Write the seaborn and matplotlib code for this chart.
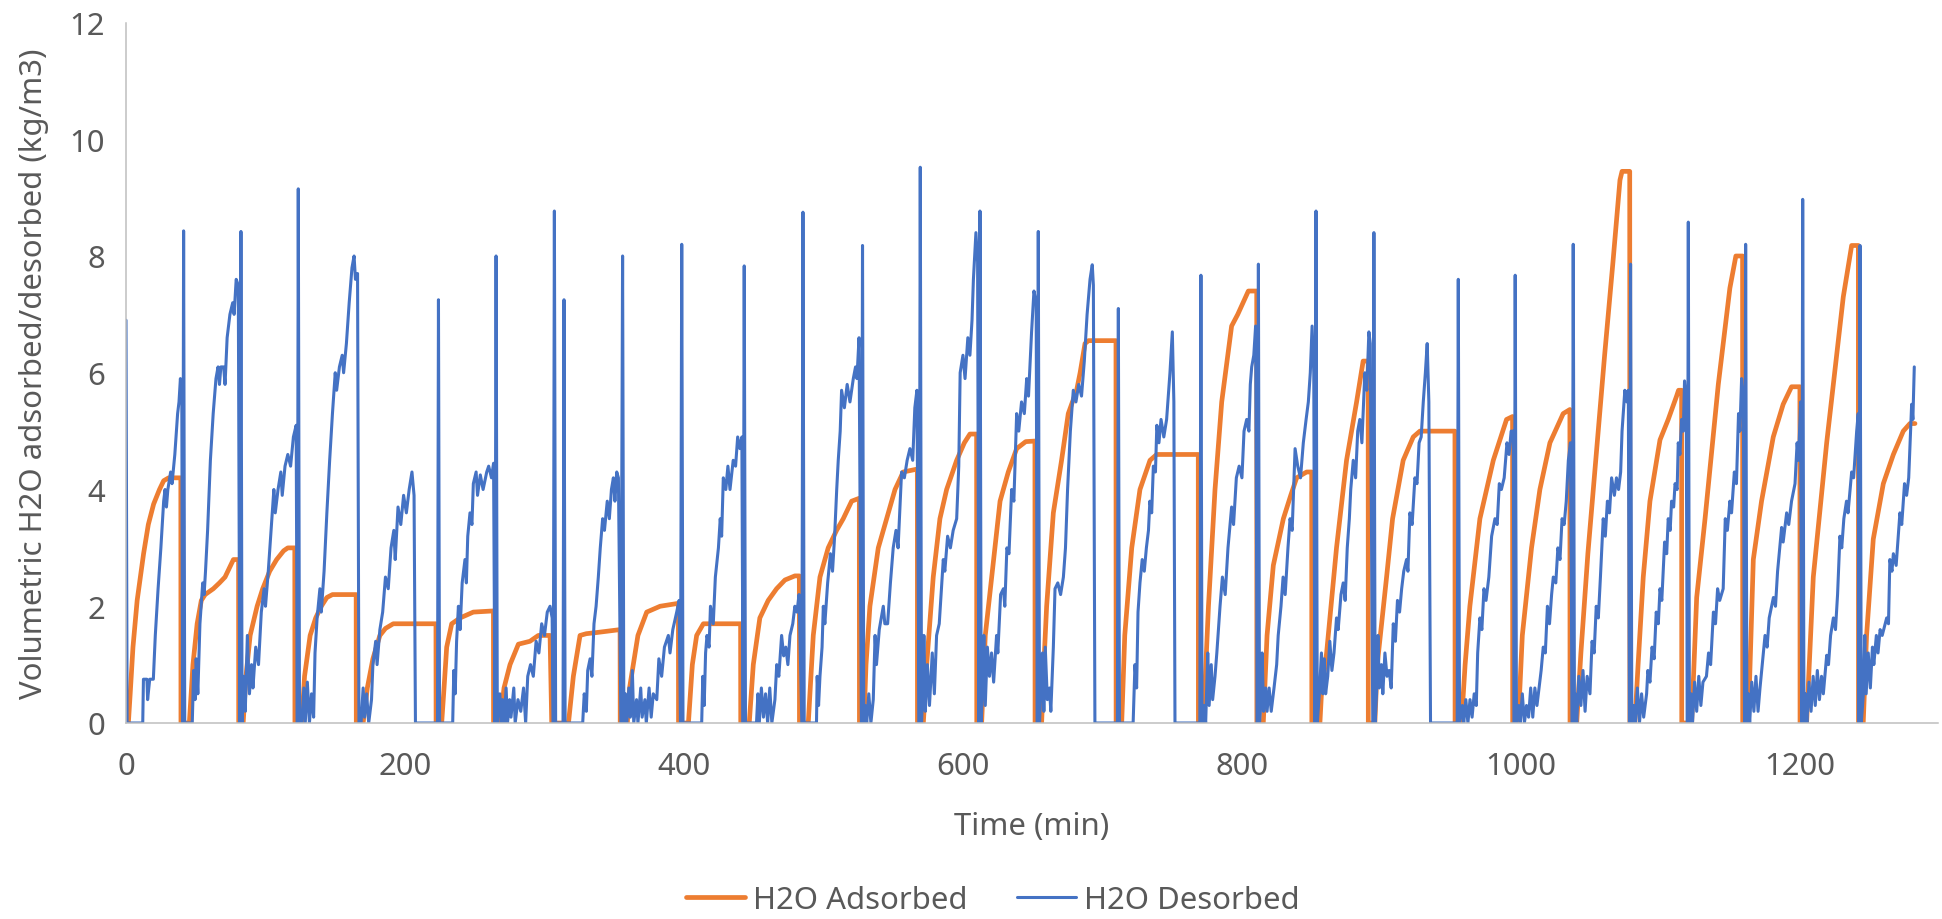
import matplotlib
matplotlib.use("Agg")
import matplotlib.pyplot as plt
import numpy as np
import pandas as pd
import seaborn as sns

# ---------------- data (time in min, kg/m3) ----------------
ADSORBED = [
    (0.5, 0), (1.7, 0), (3, 0.5), (5, 1.3), (8, 2.1), (12.6, 2.9), (16, 3.4), (19.8, 3.75), (24, 4.0), (27, 4.15), (30.6, 4.2), (39.3, 4.2), (39.4, 0),
    (45.4, 0), (48, 1.0), (51, 1.7), (54, 2.1), (56.7, 2.2), (62.6, 2.3), (67, 2.4), (71, 2.5), (74, 2.65), (77, 2.8), (80.7, 2.8), (80.8, 0),
    (84, 0), (86, 0.8), (89, 1.5), (94, 2.0), (98, 2.3), (103, 2.6), (108, 2.8), (113, 2.95), (116, 3.0), (121, 3.0), (121.1, 0),
    (126, 0), (128, 0.8), (132, 1.5), (136, 1.8), (140, 2.0), (144, 2.15), (148, 2.2), (165, 2.2), (165.1, 0),
    (170, 0), (173, 0.6), (177, 1.1), (182, 1.5), (186, 1.62), (191.6, 1.7), (222.2, 1.7), (222.3, 0),
    (226.3, 0), (228, 0.6), (229.9, 1.3), (233.5, 1.7), (239.5, 1.8), (249, 1.9), (263.4, 1.92), (263.5, 0),
    (268.1, 0), (271, 0.6), (275.3, 1.0), (281.3, 1.35), (289.6, 1.4), (295.6, 1.5), (304, 1.5), (305.2, 0),
    (317.2, 0), (320.7, 0.8), (325.5, 1.5), (330, 1.53), (337.5, 1.55), (354.2, 1.6), (354.3, 0),
    (359.4, 0), (361, 0.6), (363.7, 1.0), (367, 1.5), (373.3, 1.9), (382.9, 2.0), (396, 2.05), (396.1, 0),
    (403.2, 0), (406, 1.0), (409.1, 1.5), (413.9, 1.7), (440.6, 1.7), (440.7, 0),
    (446.8, 0), (449.7, 1.0), (454.4, 1.8), (460.4, 2.1), (466.4, 2.3), (472.4, 2.45), (479.5, 2.52), (482.7, 2.52), (482.8, 0),
    (489.1, 0), (492.7, 1.5), (497.5, 2.5), (503.4, 3.0), (509.4, 3.3), (514.2, 3.5), (520.2, 3.8), (525.7, 3.85), (525.8, 0),
    (529, 0), (530.5, 1.0), (533.3, 2.0), (539.3, 3.0), (545.3, 3.5), (551.3, 4.0), (557.2, 4.3), (567.3, 4.35), (567.4, 0),
    (571.6, 0), (574, 1.0), (578.7, 2.5), (583.5, 3.5), (588.3, 4.0), (595.5, 4.5), (601, 4.8), (605, 4.95), (609.8, 4.95), (609.9, 0),
    (613.4, 0), (616, 1.5), (620.6, 2.5), (626.6, 3.8), (632.5, 4.3), (638.5, 4.7), (645, 4.82), (651.6, 4.83), (651.7, 0),
    (656.4, 0), (658, 1.0), (660, 2.0), (664.8, 3.6), (670.7, 4.5), (675.5, 5.3), (681.5, 5.7), (684, 6.0), (687.5, 6.5), (690, 6.55), (709.7, 6.55), (709.8, 0),
    (713.8, 0), (716, 1.5), (721, 3.0), (726.9, 4.0), (734.1, 4.5), (738.9, 4.6), (768.7, 4.6), (768.8, 0),
    (772.3, 0), (776, 2.0), (780.7, 4.0), (785.5, 5.5), (792.6, 6.8), (797, 7.0), (804.6, 7.4), (810.6, 7.4), (810.7, 0),
    (815.3, 0), (818, 1.5), (822.5, 2.7), (829.7, 3.5), (835, 3.9), (839.2, 4.2), (846.4, 4.3), (850, 4.3), (850.1, 0),
    (855.9, 0), (857, 0.5), (860.7, 1.2), (867.8, 3.0), (875, 4.5), (882.2, 5.5), (886.9, 6.2), (890.5, 6.2), (890.6, 0),
    (895.3, 0), (897, 1.0), (903.7, 2.5), (908, 3.5), (915.6, 4.5), (922.8, 4.9), (927.6, 5.0), (952.7, 5.0), (952.8, 0),
    (957.4, 0), (960, 1.0), (963.4, 2.0), (970.6, 3.5), (980.2, 4.5), (989.7, 5.2), (994, 5.25), (994.1, 0),
    (998.1, 0), (1001, 1.5), (1007.6, 3.0), (1013.6, 4.0), (1020.8, 4.8), (1030.3, 5.3), (1035.1, 5.37), (1035.2, 0),
    (1040, 0), (1043, 1.2), (1048, 2.9), (1054, 4.6), (1060, 6.3), (1066, 7.9), (1071, 9.3), (1072.5, 9.45), (1078, 9.45), (1078.1, 0),
    (1081.7, 0), (1084, 1.0), (1087.7, 2.5), (1092.5, 3.8), (1099.7, 4.85), (1105.6, 5.2), (1111.6, 5.6), (1113, 5.7), (1115.2, 5.7), (1115.3, 0),
    (1122.4, 0), (1126, 2.15), (1132, 3.5), (1141.5, 5.8), (1149.8, 7.45), (1154.1, 8.0), (1158.9, 8.0), (1159, 0),
    (1163, 0), (1166.6, 2.8), (1172.5, 3.8), (1180.9, 4.9), (1188, 5.46), (1194, 5.76), (1200, 5.76), (1200.1, 0),
    (1204.8, 0), (1209.6, 2.5), (1219.2, 4.8), (1231.1, 7.3), (1237.1, 8.18), (1241.9, 8.18), (1242, 0),
    (1245.4, 0), (1247.8, 1.5), (1252.6, 3.15), (1259.8, 4.1), (1267, 4.6), (1274.1, 5.0), (1278.9, 5.13), (1282.5, 5.13),
]

DESORBED = [
    (0, 6.9), (0.8, 0), (12, 0), (12.5, 0.75), (15, 0.75), (15.5, 0.4), (17, 0.75), (19.6, 0.75), (21, 1.5), (23, 2.3), (25, 3.0), (27, 3.8), (28, 4.0), (29, 3.7), (30, 4.0), (32, 4.3), (33, 4.1), (35, 4.6), (37, 5.3), (38, 5.5), (39, 5.9), (40, 5.6), (40.6, 0), (41.3, 8.43), (42.1, 0),
    (47.5, 0), (48.5, 0.9), (49.5, 0.4), (50.3, 1.1), (51.5, 0.5), (53, 1.7), (55, 2.4), (56, 2.2), (57, 2.6), (58.5, 3.3), (60.5, 4.5), (62.5, 5.3), (64.5, 5.9), (66, 6.1), (67, 5.8), (68, 6.1), (70, 6.1), (71, 5.8), (72.5, 6.6), (74.5, 7.0), (76.5, 7.2), (77.5, 7.0), (79, 7.6), (80.5, 7.5), (81.6, 0), (82.4, 8.42), (83.2, 0),
    (84.5, 0.8), (85.5, 0.2), (87, 1.5), (88.5, 0.5), (90, 1.0), (91, 0.6), (93, 1.3), (95, 1.0), (97, 1.9), (99, 2.3), (100, 2.0), (102, 2.6), (104, 3.3), (106, 4.0), (107, 3.6), (109, 4.0), (111, 4.3), (112, 3.9), (114, 4.4), (116, 4.6), (118, 4.4), (120, 4.9), (122, 5.1), (122.8, 0), (123.5, 9.15), (124.4, 0),
    (126, 0), (127.5, 0.6), (128.5, 0), (130, 0.7), (131.5, 0), (133, 0.5), (134.5, 0.1), (135.5, 1.2), (137, 1.8), (139, 2.3), (140, 1.9), (142, 2.6), (144, 3.6), (146, 4.5), (148, 5.3), (150, 6.0), (151, 5.7), (153, 6.1), (155, 6.3), (156, 6.0), (158, 6.5), (160, 7.2), (162, 7.8), (163.5, 8.0), (164.5, 7.6), (166, 7.7), (167, 0),
    (168.5, 0), (170, 0.6), (171, 0.1), (172.5, 0.5), (174, 0), (176, 0.4), (177, 1.0), (179, 1.4), (180, 1.0), (182, 1.6), (184, 1.9), (186, 2.5), (188, 2.3), (190, 3.0), (192, 3.3), (193, 2.8), (195, 3.7), (197, 3.4), (199, 3.9), (201, 3.6), (203, 4.0), (205, 4.3), (206.5, 3.9), (207.5, 0),
    (223.3, 0), (224, 7.25), (224.8, 0),
    (234.2, 0), (235, 0.9), (236, 0.5), (237, 1.4), (238.3, 2.0), (239.5, 1.6), (241, 2.4), (243, 2.8), (244, 2.4), (245, 3.2), (246.6, 3.6), (248, 3.4), (249, 4.1), (251, 4.3), (252, 3.9), (254, 4.25), (256, 4.0), (258.6, 4.3), (260, 4.4), (262, 4.2), (263.5, 4.45), (264.5, 0), (265.3, 8.0), (266.2, 0),
    (268, 0.5), (269, 0), (270, 0.4), (271, 0), (272.5, 0.6), (273.5, 0), (275, 0.4), (276, 0.1), (278, 0.6), (279, 0), (281, 0.4), (283, 0.2), (285, 0.6), (286.5, 0), (288, 0.8), (290, 1.0), (292, 0.8), (294, 1.4), (296, 1.2), (298, 1.7), (300, 1.5), (302, 1.9), (304, 2.0), (305.5, 1.8), (306.3, 0), (307.1, 8.77), (308, 0),
    (313.3, 0), (314, 7.25), (314.8, 0),
    (327.4, 0), (328.5, 0.5), (330, 0.2), (331, 0.9), (332.7, 1.1), (334, 0.8), (335.5, 1.7), (337, 2.0), (338.6, 2.5), (340, 3.0), (341.7, 3.5), (343, 3.3), (345, 3.8), (346.5, 3.5), (348, 4.0), (349.4, 4.2), (350.5, 3.8), (351.8, 4.3), (353, 4.2), (354.8, 0), (356, 8.0), (356.9, 0),
    (358, 0.5), (359, 0), (360.5, 0.6), (361.5, 0.1), (363, 0.9), (364, 0), (366, 0.4), (367, 0), (369, 0.6), (370, 0.1), (372, 0.4), (373, 0), (375, 0.6), (376.5, 0.1), (378, 0.5), (380.5, 0.4), (382, 1.1), (384, 0.8), (386, 1.3), (388.8, 1.5), (390, 1.2), (392, 1.6), (394.8, 1.9), (396.5, 2.1), (397.5, 0), (398.4, 8.2), (399.3, 0),
    (412.7, 0), (413.5, 0.8), (414.5, 0.3), (415.5, 1.2), (416.5, 1.5), (418, 1.3), (419, 2.0), (421, 1.7), (422.5, 2.5), (424.7, 3.0), (426, 3.5), (427, 3.2), (428.2, 4.2), (430, 4.0), (431.5, 4.4), (433, 4.0), (435.3, 4.5), (437, 4.4), (438.5, 4.9), (440.1, 4.7), (441.5, 4.9), (442.4, 0), (443.2, 7.83), (444.1, 0),
    (452, 0), (453, 0.5), (454, 0), (455.5, 0.6), (457, 0.1), (458.5, 0.5), (460, 0), (461.5, 0.6), (463, 0), (465.2, 0.4), (466.5, 1.0), (468, 0.8), (470, 1.5), (471.5, 1.15), (473, 1.3), (474.5, 1.0), (476, 1.5), (478, 1.7), (479.5, 2.0), (481, 1.9), (482.5, 2.2), (484.5, 0), (485.3, 8.75), (486.2, 0),
    (495, 0), (495.5, 0.8), (496.5, 0.3), (497.5, 0.8), (499, 1.3), (499.9, 2.0), (501, 1.7), (503, 2.4), (505, 2.9), (506.5, 2.6), (508, 3.2), (509.5, 4.0), (510.6, 4.5), (512, 5.0), (513, 5.7), (515, 5.4), (517, 5.8), (519, 5.5), (521.4, 5.9), (523, 6.1), (524, 5.9), (525.5, 6.6), (527.2, 0), (528, 8.18), (528.9, 0),
    (530, 0.3), (531, 0), (532.5, 0.5), (534, 0), (535.7, 0.4), (537, 1.5), (538, 1.0), (540, 1.6), (542.9, 2.0), (544, 1.7), (546, 1.7), (548, 2.4), (550, 3.0), (552, 3.3), (553.5, 3.0), (556, 4.3), (558, 4.2), (560, 4.5), (562, 4.7), (564, 4.5), (565.5, 5.4), (567, 5.7), (568.6, 0), (569.4, 9.52), (570.3, 0),
    (571, 0.4), (572, 1.5), (573, 0.2), (574.5, 1.0), (576, 0.3), (578, 1.2), (579.5, 0.5), (581.1, 1.5), (583, 1.7), (585.9, 2.8), (587, 2.6), (589, 3.2), (591, 3.0), (593, 3.3), (595.5, 3.5), (597, 4.4), (598, 6.0), (600, 6.3), (601.5, 5.9), (603.5, 6.6), (605, 6.3), (606.5, 6.9), (607.5, 7.6), (609.3, 8.4), (610.5, 7.9), (611.4, 0), (612.2, 8.77), (613.1, 0),
    (614, 0.6), (615, 1.5), (616, 0.3), (617.5, 1.3), (619, 0.8), (620.5, 1.2), (622, 0.7), (624.1, 1.5), (625, 1.2), (627, 2.2), (629, 2.3), (630, 2.0), (631.5, 3.0), (633, 2.9), (634.9, 4.0), (636.5, 3.8), (638.5, 5.3), (640, 5.0), (642, 5.5), (644, 5.3), (645.7, 5.9), (647, 5.6), (649.2, 6.7), (650.9, 7.4), (652.5, 7.2), (653.3, 0), (654, 8.42), (654.9, 0),
    (657, 1.2), (658, 0.2), (659, 1.3), (660.5, 0.4), (662, 0.6), (663, 0.2), (664.8, 1.3), (666, 2.3), (668, 2.4), (670, 2.2), (672, 2.5), (673.5, 3.0), (675, 4.0), (677, 5.0), (679.1, 5.7), (681, 5.5), (683, 5.8), (685, 5.6), (687, 6.2), (689, 7.0), (691.1, 7.6), (692.7, 7.85), (693.5, 7.5), (694.6, 0),
    (710.7, 0), (711.4, 7.1), (712.2, 0),
    (722, 0), (723.3, 1.0), (724.5, 0.6), (725.5, 1.9), (726.9, 2.4), (728.5, 2.8), (730, 2.6), (731.5, 3.0), (733, 3.3), (734, 3.8), (735.3, 3.6), (736.5, 4.4), (738, 4.3), (739, 5.1), (740.5, 4.8), (742, 5.2), (744, 4.9), (746, 5.2), (748.4, 6.0), (750.1, 6.7), (751.2, 5.5), (752, 0),
    (769.8, 0), (770.6, 7.67), (771.4, 0),
    (773, 0.3), (774, 0), (775.5, 1.2), (776.5, 0.3), (778, 1.0), (779, 0.4), (780.7, 0.8), (782, 1.2), (784.3, 2.0), (786, 2.5), (788, 2.2), (790, 3.0), (792.6, 3.7), (794, 3.4), (796, 4.2), (798, 4.4), (800, 4.2), (801.5, 5.0), (803.4, 5.2), (805, 5.0), (806, 5.8), (807, 6.1), (808.5, 6.3), (809.8, 6.8), (811, 0), (811.8, 7.86), (812.6, 0),
    (813.5, 0.3), (814.5, 1.2), (815.5, 0.2), (817, 0.6), (818, 0.2), (819.5, 0.6), (821, 0.2), (823, 0.6), (824.9, 1.0), (826, 1.5), (828, 2.0), (829.5, 2.5), (831, 2.2), (833, 3.0), (834.5, 3.5), (836, 3.3), (838.1, 4.7), (840, 4.4), (842, 4.2), (844, 4.8), (846, 5.2), (847.6, 5.5), (849, 6.0), (850.3, 6.8), (851.5, 6.0), (852.3, 0), (853.1, 8.77), (854, 0),
    (855.5, 0.5), (857, 1.2), (858, 0.5), (859, 1.1), (860, 0.5), (861.5, 0.8), (863, 1.4), (864.5, 0.9), (866, 1.2), (867.8, 1.8), (869, 1.6), (871, 2.2), (872.6, 2.4), (874, 2.1), (875.5, 3.0), (877, 3.5), (878, 4.0), (879.8, 4.5), (881.5, 4.2), (883, 5.0), (884.5, 5.2), (886, 4.8), (888.1, 6.0), (889.5, 5.7), (891, 6.7), (892, 6.5), (893.8, 0), (894.6, 8.4), (895.5, 0),
    (896.5, 0.5), (897.5, 1.5), (898.5, 0.6), (900, 1.0), (901, 0.5), (902.5, 1.2), (904, 0.8), (905.5, 0.9), (907, 0.6), (908.5, 1.7), (910, 1.4), (911.5, 2.1), (913, 1.9), (914.5, 2.3), (916, 2.6), (918, 2.8), (919, 2.6), (920.4, 3.6), (922, 3.4), (924, 4.2), (925.5, 4.1), (927, 4.8), (928.5, 4.9), (930, 5.5), (931.5, 6.0), (932.8, 6.5), (934, 5.5), (935.2, 0),
    (954.3, 0), (955.1, 7.6), (956, 0),
    (958, 0.3), (959, 0), (960.5, 0.4), (962, 0), (963.5, 0.4), (965, 0.1), (966.5, 0.5), (968, 0.3), (969, 1.2), (970.6, 1.8), (972, 1.6), (973.5, 2.3), (975, 2.1), (977, 2.5), (979, 3.2), (981.4, 3.5), (983, 3.4), (984.5, 4.1), (986, 4.0), (988, 4.2), (990, 4.8), (991.5, 4.6), (993, 5.0), (994.5, 5.0), (995.2, 0), (995.9, 7.67), (996.8, 0),
    (998.5, 0.3), (999.5, 0), (1001, 0.5), (1002.5, 0), (1004, 0.3), (1005.5, 0.1), (1007, 0.6), (1008.5, 0.1), (1010, 0.6), (1011.5, 0.3), (1013, 0.6), (1014.5, 0.9), (1016, 1.3), (1017.5, 1.2), (1019, 2.0), (1020.5, 1.7), (1022, 2.2), (1023.2, 2.5), (1025, 2.4), (1026.5, 3.0), (1028, 2.8), (1029.5, 3.5), (1031, 3.4), (1032.5, 3.8), (1034, 4.5), (1035.5, 4.8), (1036.8, 0), (1037.5, 8.2), (1038.4, 0),
    (1039, 0.5), (1040, 0), (1041.5, 0.8), (1043, 0.3), (1044.5, 0.9), (1046, 0.2), (1047.5, 0.8), (1049.5, 0.5), (1051, 1.4), (1052.5, 1.2), (1054, 2.0), (1055.5, 1.8), (1057, 2.5), (1059, 3.5), (1060.5, 3.2), (1062, 3.8), (1063.5, 3.6), (1065, 4.2), (1067, 3.9), (1068.5, 4.2), (1070, 4.0), (1071.5, 4.3), (1072.5, 5.0), (1074.5, 5.7), (1076, 5.5), (1077, 5.7), (1077.8, 0), (1078.6, 7.86), (1079.5, 0),
    (1081, 0.3), (1082, 0), (1083.5, 0.6), (1085, 0), (1086.5, 0.5), (1088, 0.1), (1090.1, 0.5), (1091, 0.9), (1092.5, 0.7), (1094, 1.3), (1095.5, 1.1), (1097, 1.9), (1098.5, 1.7), (1099.7, 2.3), (1101, 2.1), (1103, 3.1), (1104.5, 2.9), (1105.6, 3.5), (1107, 3.3), (1108, 3.8), (1109.5, 3.7), (1110.5, 4.1), (1112, 4.0), (1112.8, 4.8), (1114, 4.6), (1115.2, 5.2), (1116.4, 5.0), (1117.3, 5.86), (1118.5, 5.5), (1119.3, 0), (1120, 8.58), (1120.8, 0),
    (1122, 0.5), (1123, 0), (1124.5, 0.7), (1126, 0.2), (1127.5, 0.8), (1129, 0.3), (1130.5, 0.7), (1133, 0.8), (1134.5, 1.2), (1136, 1.0), (1138, 1.9), (1139.5, 1.7), (1141, 2.3), (1142.5, 2.1), (1145, 2.3), (1146.5, 3.5), (1148, 3.3), (1149.8, 3.8), (1151, 3.6), (1153, 4.3), (1154.5, 4.1), (1156, 5.3), (1157, 5.0), (1158.2, 5.9), (1159.5, 5.5), (1160.3, 0), (1161.1, 8.2), (1162, 0),
    (1163, 0.5), (1164, 0), (1165.5, 0.7), (1167, 0.2), (1168.5, 0.8), (1170, 0.2), (1171.4, 0.6), (1173, 1.0), (1175, 1.5), (1176.5, 1.3), (1178, 1.8), (1181, 2.15), (1182.5, 2.0), (1184, 2.6), (1186.9, 3.35), (1188, 3.1), (1190.5, 3.6), (1192, 3.4), (1194, 3.8), (1196.5, 4.1), (1198, 4.8), (1199, 4.5), (1200.5, 5.5), (1201.3, 0), (1202, 8.97), (1202.9, 0),
    (1204, 0.5), (1205, 0), (1206.5, 0.7), (1208, 0.2), (1209.5, 0.8), (1211, 0.3), (1212.5, 0.9), (1214, 0.4), (1215.5, 0.8), (1216.8, 0.5), (1219.2, 1.16), (1220.5, 1.0), (1222, 1.5), (1224, 1.8), (1225.5, 1.6), (1227, 2.2), (1228.7, 3.2), (1230, 3.0), (1231.5, 3.5), (1233.4, 3.8), (1234.5, 3.6), (1237.1, 4.3), (1238.5, 4.2), (1240.7, 5.0), (1241.8, 5.3), (1242.4, 0), (1243.1, 8.18), (1244, 0),
    (1245.5, 0.5), (1246.5, 1.5), (1247.5, 0.5), (1249, 1.2), (1250.5, 0.6), (1252, 1.3), (1253, 1.0), (1254.8, 1.5), (1256, 1.2), (1257.5, 1.6), (1259, 1.5), (1262.2, 1.8), (1263.5, 1.7), (1264.5, 2.8), (1266, 2.6), (1267, 2.9), (1269, 2.7), (1271.7, 3.6), (1273, 3.4), (1275, 4.1), (1276.5, 3.9), (1278, 4.2), (1280.1, 5.46), (1281, 5.2), (1282, 6.1),
]

X_TICKS = [0, 200, 400, 600, 800, 1000, 1200]
Y_TICKS = [0, 2, 4, 6, 8, 10, 12]
SERIES_NAMES = ["H2O Adsorbed", "H2O Desorbed"]
X_TITLE = "Time (min)"
Y_TITLE = "Volumetric H2O adsorbed/desorbed (kg/m3)"

# ---------------- style ----------------
ORANGE = "#ED7D31"
BLUE = "#4472C4"
TEXT = "#595959"
AXIS = "#BFBFBF"

sns.set_theme(style="white")
plt.rcParams["font.family"] = ["Noto Sans", "DejaVu Sans"]

W, H = 1942, 920
fig = plt.figure(figsize=(W / 100, H / 100), dpi=100)
fig.patch.set_facecolor("white")

# plot-area in pixels
X0, X1 = 126, 1938
Y_TOP, Y_BOT = 23.5, 724
ax = fig.add_axes([X0 / W, 1 - Y_BOT / H, (X1 - X0) / W, (Y_BOT - Y_TOP) / H])
ax.set_facecolor("white")

# fit font size so that the x title has the reference width (~153 px)
renderer = fig.canvas.get_renderer()
probe = fig.text(0, 0, X_TITLE, fontsize=20)
wpx = probe.get_window_extent(renderer=renderer).width
probe.remove()
FS = 20 * 155.0 / wpx

df_a = pd.DataFrame(ADSORBED, columns=["t", "v"])
df_d = pd.DataFrame(DESORBED, columns=["t", "v"])

sns.lineplot(data=df_a, x="t", y="v", sort=False, estimator=None, color=ORANGE,
             lw=3.4, ax=ax, label=SERIES_NAMES[0], solid_joinstyle="round")
sns.lineplot(data=df_d, x="t", y="v", sort=False, estimator=None, color=BLUE,
             lw=2.2, ax=ax, label=SERIES_NAMES[1], solid_joinstyle="round")

ax.set_xlim(0, 1299)
ax.set_ylim(0, 12)
ax.set_xticks(X_TICKS)
ax.set_yticks(Y_TICKS)
ax.grid(False)
for s in ["top", "right"]:
    ax.spines[s].set_visible(False)
for s in ["left", "bottom"]:
    ax.spines[s].set_color(AXIS)
    ax.spines[s].set_linewidth(1.1)
ax.tick_params(axis="both", length=0, labelsize=FS, labelcolor=TEXT)
ax.tick_params(axis="y", pad=15)
ax.tick_params(axis="x", pad=20)
ax.set_xlabel("")
ax.set_ylabel("")

fig.text((X0 + X1) / 2 / W, 1 - 827 / H, X_TITLE, ha="center", va="center",
         fontsize=FS, color=TEXT)
fig.text(34 / W, 1 - 374 / H, Y_TITLE, ha="center", va="center", rotation=90,
         fontsize=FS, color=TEXT)

handles, labels = ax.get_legend_handles_labels()
ax.get_legend().remove()
fig.legend(handles, labels, loc="center", bbox_to_anchor=(993 / W, 1 - 901 / H),
           ncol=2, frameon=False, fontsize=FS, labelcolor=TEXT,
           handlelength=1.9, handletextpad=0.25, columnspacing=1.6,
           borderpad=0.0)

fig.savefig("out.png", dpi=100, facecolor="white")
